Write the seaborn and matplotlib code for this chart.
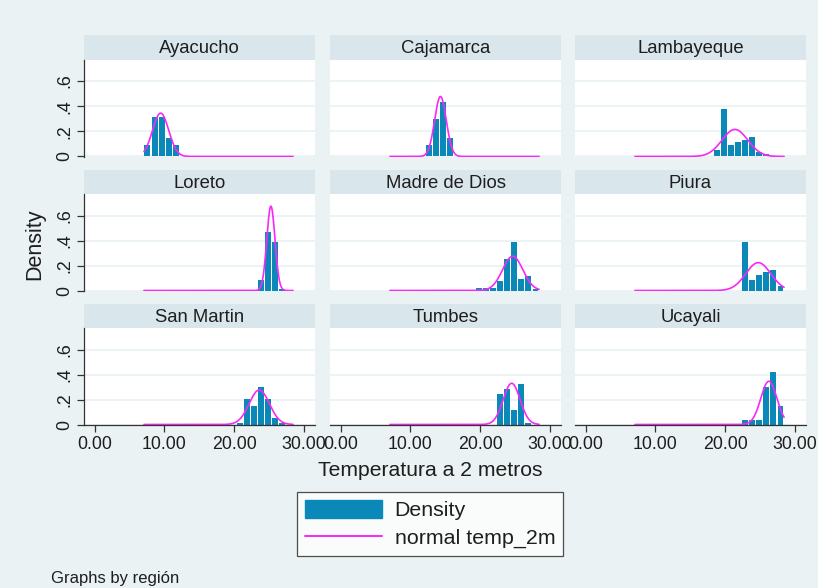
import numpy as np
import pandas as pd
import matplotlib
matplotlib.use("Agg")
import matplotlib.pyplot as plt
from matplotlib.patches import Patch
from matplotlib.lines import Line2D
import seaborn as sns

# ---- data -------------------------------------------------------------
regions = ["Ayacucho", "Cajamarca", "Lambayeque",
           "Loreto", "Madre de Dios", "Piura",
           "San Martin", "Tumbes", "Ucayali"]

# common histogram bins for temp_2m
temp_min = 7.05
temp_max = 28.45
n_bins = 21

# density of each bin (bin 0 .. 20) per region
dens_ayacucho = [.090, .316, .316, .149, .090, 0, 0, 0, 0, 0, 0, 0, 0, 0, 0, 0, 0, 0, 0, 0, 0]
dens_cajamarca = [0, 0, 0, 0, 0, .090, .295, .433, .149, 0, 0, 0, 0, 0, 0, 0, 0, 0, 0, 0, 0]
dens_lambayeque = [0, 0, 0, 0, 0, 0, 0, 0, 0, 0, 0, .053, .376, .093, .115, .131, .155, .037, .016, 0, 0]
dens_loreto = [0, 0, 0, 0, 0, 0, 0, 0, 0, 0, 0, 0, 0, 0, 0, 0, .088, .465, .390, .012, 0]
dens_madre = [0, 0, 0, 0, 0, 0, 0, 0, 0, 0, 0, 0, .019, .019, .019, .077, .252, .389, .096, .115, .010]
dens_piura = [0, 0, 0, 0, 0, 0, 0, 0, 0, 0, 0, 0, 0, 0, 0, .390, .088, .125, .146, .165, .035]
dens_sanmartin = [0, 0, 0, 0, 0, 0, 0, 0, 0, 0, 0, 0, 0, .016, .208, .151, .303, .208, .054, .016, 0]
dens_tumbes = [0, 0, 0, 0, 0, 0, 0, 0, 0, 0, 0, 0, 0, 0, 0, .243, .281, .114, .322, .016, 0]
dens_ucayali = [0, 0, 0, 0, 0, 0, 0, 0, 0, 0, 0, 0, 0, 0, 0, .038, .038, .038, .303, .419, .146]

densities = [dens_ayacucho, dens_cajamarca, dens_lambayeque,
             dens_loreto, dens_madre, dens_piura,
             dens_sanmartin, dens_tumbes, dens_ucayali]

# mean and standard deviation of temp_2m per region (normal overlay)
temp_mean = [9.45, 14.30, 21.40, 25.27, 24.67, 24.75, 23.60, 24.52, 26.27]
temp_sd = [1.156, 0.835, 1.850, 0.591, 1.456, 1.790, 1.446, 1.210, 1.153]

x_ticks = [0, 10, 20, 30]
x_tick_labels = ["0.00", "10.00", "20.00", "30.00"]
y_ticks = [0, .2, .4, .6]
y_tick_labels = ["0", ".2", ".4", ".6"]

# ---- style ------------------------------------------------------------
sns.set_theme(style="white")
plt.rcParams["font.family"] = ["Liberation Sans", "DejaVu Sans"]

BG = "#EAF2F3"
STRIP = "#D9E6EB"
BAR = "#0A89B9"
CURVE = "#F928F9"
TXT = "#1E1E1E"

W, H = 818, 588
fig = plt.figure(figsize=(W / 100, H / 100), dpi=100, facecolor=BG)


def rect(x0, y0, x1, y1):
    """pixel box (top-left origin) -> figure fraction rect"""
    return [x0 / W, 1 - y1 / H, (x1 - x0) / W, (y1 - y0) / H]


col_x = [(84, 315), (330, 561), (575, 806)]
row_y = [(35, 59.5, 157), (170, 194, 291), (304, 328, 425)]

bin_w = (temp_max - temp_min) / n_bins
centers = temp_min + bin_w * (np.arange(n_bins) + 0.5)
curve_x = np.linspace(temp_min, temp_max, 300)

for i, region in enumerate(regions):
    r, c = divmod(i, 3)
    x0, x1 = col_x[c]
    s0, p0, p1 = row_y[r]

    # strip with the region name
    sax = fig.add_axes(rect(x0, s0, x1, p0))
    sax.set_facecolor(STRIP)
    sax.set_xticks([])
    sax.set_yticks([])
    for sp in sax.spines.values():
        sp.set_visible(False)
    sax.text(0.5, 0.45, region, ha="center", va="center",
             fontsize=13.3, color=TXT, transform=sax.transAxes)

    ax = fig.add_axes(rect(x0, p0, x1, p1))
    ax.set_facecolor("white")

    df = pd.DataFrame({"temp": centers, "dens": densities[i]})
    sns.histplot(data=df, x="temp", weights="dens",
                 binwidth=bin_w, binrange=(temp_min, temp_max + 1e-6),
                 stat="count", color=BAR, alpha=1, linewidth=0,
                 shrink=0.84, ax=ax)

    mu, sd = temp_mean[i], temp_sd[i]
    pdf = np.exp(-0.5 * ((curve_x - mu) / sd) ** 2) / (sd * np.sqrt(2 * np.pi))
    sns.lineplot(x=curve_x, y=pdf, color=CURVE, linewidth=1.2, ax=ax)

    ax.set_xlim(-1.55, 31.6)
    ax.set_ylim(-0.004, 0.772)
    ax.set_yticks(y_ticks)
    ax.set_xticks(x_ticks)
    ax.grid(axis="y", color=BG, linewidth=1.3)
    ax.set_axisbelow(True)
    ax.set_xlabel("")
    ax.set_ylabel("")
    for sp in ax.spines.values():
        sp.set_visible(False)

    if c == 0:
        ax.spines["left"].set_visible(True)
        ax.spines["left"].set_color("#333333")
        ax.spines["left"].set_linewidth(0.9)
        ax.set_yticklabels(y_tick_labels, rotation=90, va="center",
                           fontsize=12.8, color=TXT)
        ax.tick_params(axis="y", length=5, width=0.9, color="#333333",
                       pad=3, left=True)
    else:
        ax.tick_params(axis="y", left=False, labelleft=False)

    if r == 2:
        ax.spines["bottom"].set_visible(True)
        ax.spines["bottom"].set_color("#333333")
        ax.spines["bottom"].set_linewidth(0.9)
        ax.set_xticklabels(x_tick_labels, fontsize=12.8, color=TXT)
        ax.tick_params(axis="x", length=5, width=0.9, color="#333333",
                       pad=3, bottom=True)
    else:
        ax.tick_params(axis="x", bottom=False, labelbottom=False)

# axis titles
fig.text(35 / W, 1 - 244 / H, "Density", rotation=90, ha="center", va="center",
         fontsize=15.5, color=TXT)
fig.text(430 / W, 1 - 471 / H, "Temperatura a 2 metros", ha="center",
         va="center", fontsize=15.2, color=TXT)

# legend
handles = [Patch(facecolor=BAR, edgecolor=BAR),
           Line2D([0], [0], color=CURVE, linewidth=1.4)]
leg = fig.legend(handles, ["Density", "normal temp_2m"],
                 loc="center", bbox_to_anchor=(430 / W, 1 - 524 / H),
                 fontsize=15.4, frameon=True, fancybox=False,
                 handlelength=3.6, handleheight=0.95, labelspacing=0.32,
                 handletextpad=0.6, borderpad=0.35, borderaxespad=0)
leg.get_frame().set_edgecolor("#222222")
leg.get_frame().set_linewidth(0.9)
leg.get_frame().set_facecolor("white")
for t in leg.get_texts():
    t.set_color(TXT)

fig.text(51 / W, 1 - 578 / H, "Graphs by región", ha="left", va="center",
         fontsize=12, color=TXT)

fig.savefig("out.png", dpi=100, facecolor=BG)
